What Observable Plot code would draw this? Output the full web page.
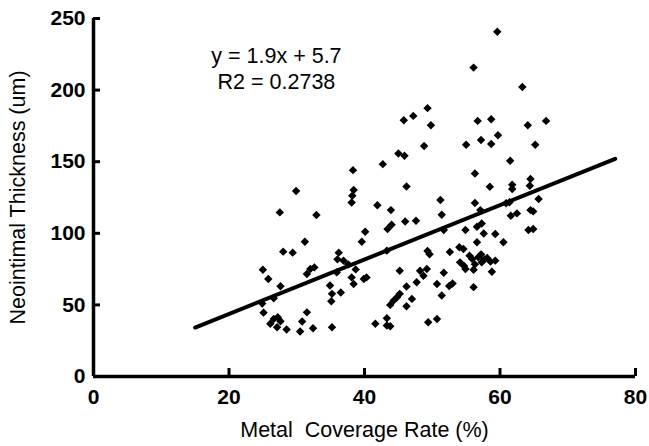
<!DOCTYPE html>
<html><head><meta charset="utf-8">
<script src="https://cdn.jsdelivr.net/npm/d3@7"></script>
<script src="https://cdn.jsdelivr.net/npm/@observablehq/plot@0.6"></script>
<style>
body{margin:0;background:#fff;}
#chart svg{display:block;}
</style></head><body><div id="chart"></div>
<script>
// Metal coverage rate (%) for each stent segment
const coverage = [
  25.0,25.8,27.6,26.6,24.9,25.1,26.1,26.6,27.2,27.6,27.1,28.5,30.5,30.8,31.5,32.4,28.0,29.4,31.2,32.0,32.6,31.5,27.5,29.9,32.9,
  35.2,34.9,35.2,35.1,35.9,36.2,36.0,36.5,36.9,37.6,38.7,38.1,38.4,39.9,40.3,40.1,39.6,38.3,38.4,38.2,38.1,
  41.9,43.9,44.0,43.4,43.3,42.7,45.0,45.9,45.8,47.2,49.3,49.8,48.8,46.2,46.0,47.6,41.6,43.3,43.3,43.8,45.2,45.2,44.8,44.3,43.8,
  46.2,47.0,46.2,48.2,49.2,48.7,47.7,50.7,49.3,49.6,49.4,50.7,51.2,51.4,51.7,51.7,51.4,
  52.5,53.0,56.1,52.6,54.0,54.6,54.1,54.9,56.1,55.9,57.3,58.6,59.3,58.8,55.5,56.8,58.1,56.6,60.5,59.3,57.6,56.6,57.3,54.9,
  64.2,64.9,61.6,62.5,64.5,64.9,65.7,56.3,57.1,60.9,61.4,56.3,58.5,61.8,61.8,64.5,64.4,61.5,55.0,57.2,58.7,59.7,65.2,
  56.7,58.7,64.1,66.8,56.1,63.3,59.6,54.7,56.3,57.2,57.7
];
// Neointimal thickness (um) for the same segments
const thickness = [
  74.6,68.1,63.0,54.6,50.9,44.6,36.8,40.2,41.4,38.6,34.4,32.8,31.4,38.4,44.8,33.7,87.2,86.5,94.1,75.1,76.2,71.6,114.6,129.5,112.8,
  34.4,63.5,57.7,52.6,72.7,86.5,81.8,58.6,80.9,78.3,74.8,69.2,64.6,68.1,69.2,101.1,94.1,144.1,130.2,126.2,121.5,
  119.6,116.2,106.0,103.0,87.9,148.3,155.7,154.1,179.0,182.0,187.4,175.5,160.9,132.7,108.3,108.8,36.8,40.7,35.6,35.1,73.9,57.7,55.3,53.0,50.0,
  62.8,54.2,49.0,73.9,75.1,70.4,65.8,64.6,87.7,85.3,37.9,40.2,123.2,113.0,102.3,72.5,56.5,
  63.2,64.9,62.4,87.0,90.2,89.0,79.7,75.1,74.6,82.1,79.7,80.2,80.9,73.2,84.4,83.2,82.8,93.7,93.7,99.5,99.9,104.6,106.9,102.3,
  102.3,103.0,112.3,113.9,116.2,115.3,123.9,121.1,116.2,121.0,121.7,141.8,132.5,133.9,130.9,137.9,133.2,150.6,161.8,165.1,162.3,168.5,161.8,
  178.5,179.7,175.5,178.5,215.7,202.2,240.8,77.1,78.3,85.3,81.8
];
// Linear fit end points (y = 1.9x + 5.7)
const fitX = [15, 77];
const fitY = [34.2, 152.0];
const equationLines = ["y = 1.9x + 5.7", "R2 = 0.2738"];
const equationX = [27.0, 27.0];
const equationY = [223.4, 205.6];
const xTicks = [0, 20, 40, 60, 80];
const yTicks = [0, 50, 100, 150, 200, 250];
const xTitle = "Metal\u00a0 Coverage Rate (%)";
const yTitle = "Neointimal Thickness (um)";

const W = 649, H = 446, mL = 93, mR = 14, mT = 18, mB = 70;
const plotW = W - mL - mR, plotH = H - mT - mB;
const points = coverage.map((x, i) => ({x, y: thickness[i]}));
const fit = fitX.map((x, i) => ({x, y: fitY[i]}));
const eq = equationLines.map((t, i) => ({t, x: equationX[i], y: equationY[i]}));
const font = "'Liberation Sans', Arial, sans-serif";

const chart = Plot.plot({
  width: W, height: H,
  marginLeft: mL, marginRight: mR, marginTop: mT, marginBottom: mB,
  style: {fontFamily: font, background: "#fff", color: "#000"},
  x: {domain: [0, 80]},
  y: {domain: [0, 250]},
  marks: [
    Plot.axisX(xTicks, {tickSize: 0, tickPadding: 13, fontSize: 21, fontWeight: "bold", label: null, fill: "#000"}),
    Plot.axisY(yTicks, {tickSize: 0, tickPadding: 8, fontSize: 21, fontWeight: "bold", label: null, fill: "#000"}),
    Plot.tickX(xTicks, {x: d => d, insetTop: plotH - 8, stroke: "#000", strokeWidth: 3}),
    Plot.tickY(yTicks, {y: d => d, insetRight: plotW - 7, stroke: "#000", strokeWidth: 3}),
    Plot.ruleY([0], {stroke: "#000", strokeWidth: 3.5}),
    Plot.ruleX([0], {stroke: "#000", strokeWidth: 3.5}),
    Plot.dot(points, {x: "x", y: "y", symbol: "diamond2", r: 3.8, fill: "#000", stroke: "none"}),
    Plot.line(fit, {x: "x", y: "y", stroke: "#000", strokeWidth: 4}),
    Plot.text(eq, {x: "x", y: "y", text: "t", fontSize: 21.5, fill: "#000", textAnchor: "middle"}),
    Plot.text([xTitle], {frameAnchor: "bottom", dy: 60, fontSize: 21.5, fill: "#000", textAnchor: "middle"}),
    Plot.text([yTitle], {frameAnchor: "left", dx: -75, rotate: -90, fontSize: 21.5, fill: "#000", textAnchor: "middle"})
  ]
});
document.getElementById("chart").appendChild(chart);
</script>
</body></html>
